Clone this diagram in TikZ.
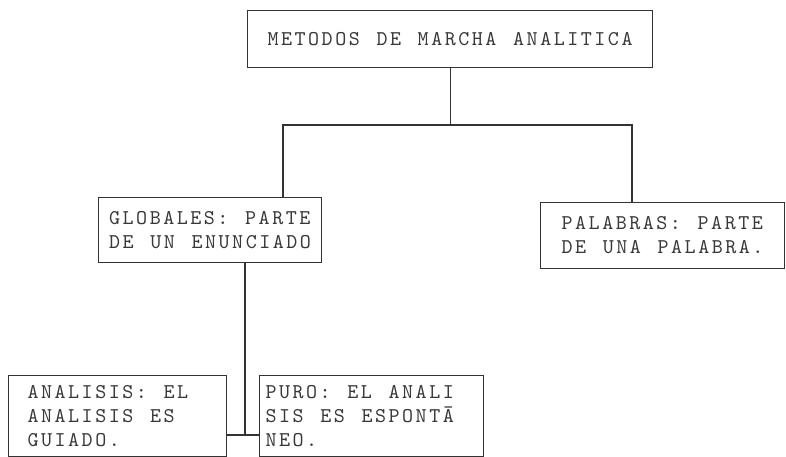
\documentclass[tikz,border=0pt]{standalone}
\usepackage{fontspec}
\usepackage{tikz}
\definecolor{mygray}{gray}{0.2}
\definecolor{mytext}{gray}{0.22}
\newfontfamily\maquinafont{lmmono10-regular.otf}[LetterSpace=12,WordSpace=1.23]
\newcommand\maquina{\maquinafont\fontsize{21}{24}\selectfont}

\begin{document}
\begin{tikzpicture}[x=1pt,y=-1pt,
  caja/.style={draw=mygray,line width=1.1pt,text=mytext,align=left,font=\maquina,anchor=north west,
    execute at begin node={\spaceskip=0pt\xspaceskip=0pt\relax}},
  linea/.style={mygray,line width=1.1pt}]

\useasboundingbox (0,0) rectangle (786,456);
\clip (0,0) rectangle (786,456);

\node[caja,minimum width=405,minimum height=57] (titulo) at (247,10) {METODOS DE MARCHA ANALITICA};
\node[caja,minimum width=223,minimum height=65] (globales) at (98,197) {GLOBALES: PARTE\\DE UN ENUNCIADO};
\node[caja,minimum width=244,minimum height=66] (palabras) at (540,202) {PALABRAS: PARTE\\DE UNA PALABRA.};
\node[caja,text width=180,inner xsep=19,inner ysep=10] (analisis) at (8,375) {ANALISIS: EL\\ANALISIS ES\\GUIADO.};
\node[caja,text width=212,inner xsep=6,inner ysep=10] (puro) at (259,375) {PURO: EL ANALI\\SIS ES ESPONT\=A\\NEO.};

%\coordinate (bi) at (283,125);
\coordinate (bi) at (283,125);
\coordinate (bd) at (632,125);
\coordinate (bc) at (245,435);

\draw[linea] (titulo.south) -- (titulo.south |- bi);
\draw[linea] (bi |- globales.north) -- (bi) -- (bd) -- (bd |- palabras.north);
\draw[linea] (globales.south -| bc) -- (bc);
\draw[linea] (analisis.east |- bc) -- (puro.west |- bc);
\end{tikzpicture}
\end{document}
